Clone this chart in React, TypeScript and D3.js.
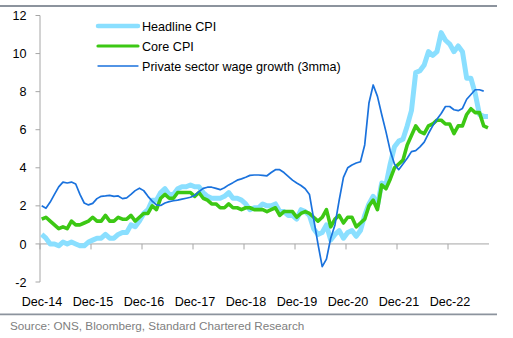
import React from "react";
import * as d3 from "d3";

const yearLabels = ["Dec-14", "Dec-15", "Dec-16", "Dec-17", "Dec-18", "Dec-19", "Dec-20", "Dec-21", "Dec-22"];
const yTicks = [-2, 0, 2, 4, 6, 8, 10, 12];

// Monthly values, starting Dec 2014
const headlineCPI = [
  0.5,
  0.3, 0.0, 0.0, -0.1, 0.1, 0.0, 0.1, 0.0, -0.1, -0.1, 0.1, 0.2,
  0.3, 0.3, 0.5, 0.3, 0.3, 0.5, 0.6, 0.6, 1.0, 0.9, 1.2, 1.6,
  1.8, 2.3, 2.3, 2.7, 2.9, 2.6, 2.6, 2.9, 3.0, 3.0, 3.1, 3.0,
  3.0, 2.7, 2.5, 2.4, 2.4, 2.4, 2.5, 2.7, 2.4, 2.4, 2.3, 2.1,
  1.8, 1.9, 1.9, 2.1, 2.0, 2.0, 2.1, 1.7, 1.7, 1.5, 1.5, 1.3,
  1.8, 1.7, 1.5, 0.8, 0.5, 0.6, 1.0, 0.2, 0.5, 0.7, 0.3, 0.6,
  0.7, 0.4, 0.7, 1.5, 2.1, 2.5, 2.0, 3.2, 3.1, 4.2, 5.1, 5.4,
  5.5, 6.2, 7.0, 9.0, 9.1, 9.4, 10.1, 9.9, 10.1, 11.1, 10.7, 10.5,
  10.1, 10.4, 10.1, 8.7, 8.7, 7.9, 6.8, 6.7, 6.7,
];

const coreCPI = [
  1.3,
  1.4, 1.2, 1.0, 0.8, 0.9, 0.8, 1.2, 1.0, 1.0, 1.1, 1.2, 1.4,
  1.2, 1.2, 1.5, 1.2, 1.2, 1.4, 1.3, 1.3, 1.5, 1.2, 1.4, 1.6,
  1.6, 2.0, 1.8, 2.4, 2.6, 2.4, 2.4, 2.7, 2.7, 2.7, 2.7, 2.5,
  2.7, 2.4, 2.3, 2.1, 2.1, 1.9, 1.9, 2.1, 1.9, 1.9, 1.8, 1.9,
  1.9, 1.8, 1.8, 1.8, 1.7, 1.8, 1.9, 1.5, 1.7, 1.7, 1.7, 1.4,
  1.6, 1.7, 1.6, 1.4, 1.2, 1.4, 1.8, 0.9, 1.3, 1.5, 1.1, 1.4,
  1.4, 0.9, 1.1, 1.3, 2.0, 2.3, 1.8, 3.1, 2.9, 3.4, 4.0, 4.2,
  4.4, 5.2, 5.7, 6.2, 5.9, 5.8, 6.2, 6.3, 6.5, 6.5, 6.3, 6.3,
  5.8, 6.2, 6.2, 6.8, 7.1, 6.9, 6.9, 6.2, 6.1,
];

const wageGrowth = [
  2.0,
  1.87, 2.2, 2.6, 3.0, 3.25, 3.2, 3.25, 3.15, 2.6, 2.15, 2.05, 2.13,
  2.38, 2.5, 2.52, 2.55, 2.5, 2.52, 2.38, 2.42, 2.6, 2.8, 2.93, 2.8,
  2.5, 2.25, 2.05, 2.02, 2.15, 2.22, 2.27, 2.3, 2.35, 2.4, 2.45, 2.55,
  2.75, 2.92, 2.98, 2.98, 2.92, 2.85, 2.95, 3.1, 3.22, 3.35, 3.42, 3.5,
  3.6, 3.62, 3.62, 3.6, 3.58, 3.75, 3.9, 3.9, 3.75, 3.55, 3.35, 3.2,
  3.07, 2.9, 2.6, 1.3, 0.0, -1.19, -0.8, 0.3, 1.0, 2.3, 3.5, 4.0,
  4.15, 4.25, 4.32, 5.2, 7.4, 8.35, 7.75, 6.8, 5.9, 4.9, 4.2, 3.9,
  4.2, 4.5, 4.85, 4.9, 5.1, 5.35, 5.8, 6.2, 6.55, 6.85, 7.22, 7.22,
  7.05, 7.0, 7.12, 7.6, 7.85, 8.1, 8.1, 8.03,
];

const seriesNames = ["Headline CPI", "Core CPI", "Private sector wage growth (3mma)"];
const seriesColors = ["#8ADFFF", "#3CC814", "#1A72DD"];
const seriesWidths = [5, 3.6, 1.7];

const FONT = "'Liberation Sans', Arial, sans-serif";

export default function App() {
  const W = 513;
  const H = 338;
  const x = d3.scaleLinear().domain([0, 96]).range([40, 448]);
  const y = d3.scaleLinear().domain([-2, 12]).range([282, 15.5]);
  const xEnd = 489;

  const line = d3
    .line<number>()
    .x((_, i) => x(i + 0.4))
    .y((d) => y(d))
    .curve(d3.curveLinear);

  const allSeries = [headlineCPI, coreCPI, wageGrowth];

  return (
    <svg
      width={W}
      height={H}
      style={{ position: "absolute", left: 0, top: 0, background: "#fff" }}
      fontFamily={FONT}
    >
      {/* top and bottom rules */}
      <line x1={0} x2={497} y1={6} y2={6} stroke="#8C939D" strokeWidth={1.8} />
      <line x1={0} x2={497} y1={314.3} y2={314.3} stroke="#8C939D" strokeWidth={1.8} />

      {/* y axis */}
      <line x1={40} x2={40} y1={y(12)} y2={y(-2)} stroke="#A6A6A6" strokeWidth={1} />
      {yTicks.map((t) => (
        <g key={t}>
          <line x1={35.5} x2={40} y1={y(t)} y2={y(t)} stroke="#A6A6A6" strokeWidth={1} />
          <text x={26.5} y={y(t) + 4.6} textAnchor="end" fontSize={12.6} fill="#000">
            {t}
          </text>
        </g>
      ))}

      {/* x axis at zero */}
      <line x1={40} x2={xEnd} y1={y(0)} y2={y(0)} stroke="#A6A6A6" strokeWidth={1} />
      {yearLabels.map((lab, i) => (
        <g key={lab}>
          <line x1={x(i * 12)} x2={x(i * 12)} y1={y(0)} y2={y(0) + 5.5} stroke="#A6A6A6" strokeWidth={1} />
          <text x={x(i * 12) + 2} y={306} textAnchor="middle" fontSize={12.6} fill="#000">
            {lab}
          </text>
        </g>
      ))}

      {/* series */}
      {allSeries.map((s, k) => (
        <path
          key={seriesNames[k]}
          d={line(s) || ""}
          fill="none"
          stroke={seriesColors[k]}
          strokeWidth={seriesWidths[k]}
          strokeLinejoin="round"
        />
      ))}

      {/* legend */}
      {seriesNames.map((n, k) => (
        <g key={n}>
          <line
            x1={98}
            x2={138}
            y1={26 + k * 20}
            y2={26 + k * 20}
            stroke={seriesColors[k]}
            strokeWidth={seriesWidths[k] - (k === 0 ? 0.5 : 0.4)}
            strokeLinecap="round"
          />
          <text x={142} y={26 + k * 20 + 4.5} fontSize={12.6} fill="#000">
            {n}
          </text>
        </g>
      ))}

      {/* source */}
      <text x={10} y={330} fontSize={11.7} fill="#808080">
        Source: ONS, Bloomberg, Standard Chartered Research
      </text>
    </svg>
  );
}
